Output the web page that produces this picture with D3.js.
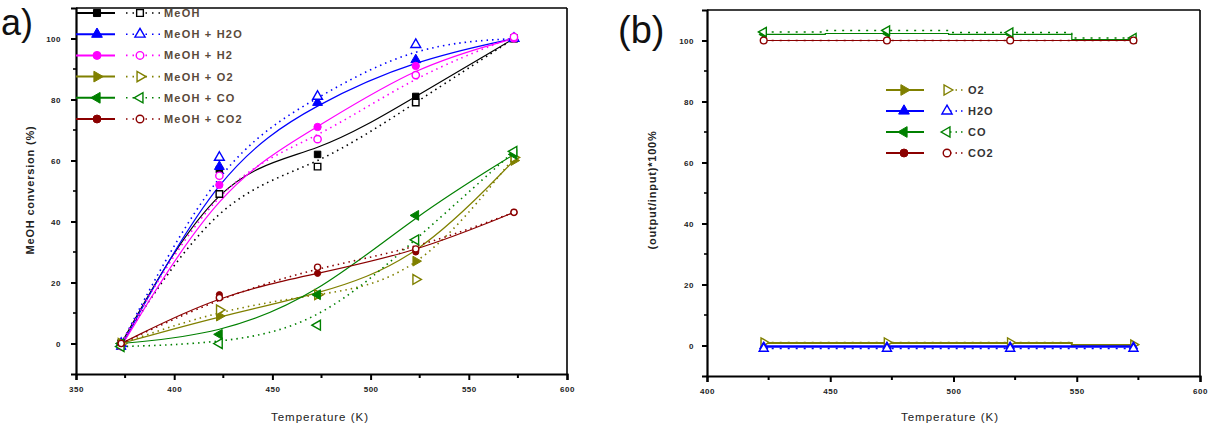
<!DOCTYPE html>
<html>
<head>
<meta charset="utf-8">
<script src="https://cdn.jsdelivr.net/npm/d3@7"></script>
<style>
  body { margin: 0; background: #fff; }
  svg { display: block; font-family: "Liberation Sans", Arial, sans-serif; }
</style>
</head>
<body>
<svg id="chart" width="1219" height="432"></svg>
<script>
// panel a: MeOH conversion vs temperature
const tempsA = [373, 423, 473, 523, 573];
const meohFilled = [0, 57, 62, 81, 100];
const meohOpen = [0, 49, 58, 79, 100];
const h2oFilled = [-1, 58, 79, 93, 100];
const h2oOpen = [0, 61, 81, 98, 100];
const h2Filled = [-1, 52, 71, 91, 100];
const h2Open = [0, 55, 67, 88, 100.5];
const o2Filled = [0, 9, 16, 27, 60];
const o2Open = [0, 11, 16, 21, 61];
const coFilled = [0, 3, 16, 42, 62];
const coOpen = [-1, 0, 6, 34, 63];
const co2Filled = [0, 16, 23, 30, 43];
const co2Open = [0, 15, 25, 31, 43];
const namesA = ["MeOH", "MeOH + H2O", "MeOH + H2", "MeOH + O2", "MeOH + CO", "MeOH + CO2"];

// panel b: output/input
const tempsB = [423, 473, 523, 573];
const o2BFilled = [0.8, 0.8, 0.8, 0.2];
const o2BOpen = [1, 1, 1, 0.3];
const h2oBFilled = [-0.3, -0.3, -0.3, -0.3];
const h2oBOpen = [-1, -1, -1, -1];
const coBFilled = [102, 102.3, 102, 100.3];
const coBOpen = [102.8, 103.3, 102.6, 100.8];
const co2BFilled = [100, 100, 100, 100];
const co2BOpen = [100, 100, 100, 100];
const namesB = ["O2", "H2O", "CO", "CO2"];

const xTicksA = [350, 400, 450, 500, 550, 600];
const xTicksB = [400, 450, 500, 550, 600];
const yTicks = [0, 20, 40, 60, 80, 100];

const svg = d3.select("#chart");

const symTri = d3.symbolTriangle;
const shapes = {
    square: { type: d3.symbolSquare, rot: 0 },
    up: { type: symTri, rot: 0 },
    circle: { type: d3.symbolCircle, rot: 0 },
    right: { type: symTri, rot: 90 },
    left: { type: symTri, rot: -90 },
    small: { type: d3.symbolCircle, rot: 0 }
};

const seriesA = [
    { name: namesA[0], color: "#000000", shape: "square", filled: meohFilled, open: meohOpen },
    { name: namesA[1], color: "#0000ff", shape: "up", filled: h2oFilled, open: h2oOpen },
    { name: namesA[2], color: "#ff00ff", shape: "circle", filled: h2Filled, open: h2Open },
    { name: namesA[3], color: "#808000", shape: "right", filled: o2Filled, open: o2Open },
    { name: namesA[4], color: "#008000", shape: "left", filled: coFilled, open: coOpen },
    { name: namesA[5], color: "#8b0000", shape: "small", filled: co2Filled, open: co2Open }
];

const seriesB = [
    { name: namesB[0], color: "#808000", shape: "right", filled: o2BFilled, open: o2BOpen, w: 2 },
    { name: namesB[1], color: "#0000ff", shape: "up", filled: h2oBFilled, open: h2oBOpen, w: 2.5 },
    { name: namesB[2], color: "#008000", shape: "left", filled: coBFilled, open: coBOpen, w: 1.2 },
    { name: namesB[3], color: "#8b0000", shape: "small", filled: co2BFilled, open: co2BOpen, w: 1.2 }
];

function marker(g, shape, x, y, color, filled, size) {
    const s = shapes[shape];
    const sz = size || (shape === "small" ? 30 : 42);
    g.append("path")
        .attr("d", d3.symbol().type(s.type).size(sz)())
        .attr("transform", "translate(" + x + "," + y + ") rotate(" + s.rot + ")")
        .attr("fill", filled ? color : "#fff")
        .attr("stroke", color)
        .attr("stroke-width", filled ? 1 : 1.4);
}

function frame(x, y, xTicks, xMinor, yMinor, labelGap) {
    const g = svg.append("g");
    const [x0, x1] = x.range();
    const [y0, y1] = y.range();
    // box
    g.append("line").attr("x1", x0).attr("x2", x1).attr("y1", y1).attr("y2", y1)
        .attr("stroke", "#000").attr("stroke-width", 1.6);
    g.append("line").attr("x1", x1).attr("x2", x1).attr("y1", y1).attr("y2", y0)
        .attr("stroke", "#000").attr("stroke-width", 1.6);

    const xAxis = g.append("g").attr("transform", "translate(0," + y0 + ")")
        .call(d3.axisBottom(x).tickValues(xTicks).tickSize(6).tickPadding(6).tickFormat(d3.format("d")));
    xAxis.append("g").selectAll("line").data(xMinor).join("line")
        .attr("x1", d => x(d)).attr("x2", d => x(d)).attr("y1", 0).attr("y2", 4)
        .attr("stroke", "#000").attr("stroke-width", 2);

    const yAxis = g.append("g").attr("transform", "translate(" + x0 + ",0)")
        .call(d3.axisLeft(y).tickValues(yTicks).tickSize(5).tickPadding(labelGap).tickFormat(d3.format("d")));
    yAxis.append("g").selectAll("line").data(yMinor).join("line")
        .attr("x1", 0).attr("x2", -3).attr("y1", d => y(d)).attr("y2", d => y(d))
        .attr("stroke", "#000").attr("stroke-width", 1.6);

    [xAxis, yAxis].forEach(a => {
        a.select(".domain").attr("stroke-width", 2.2);
        a.selectAll(".tick line").attr("stroke-width", 2);
        a.selectAll(".tick text").attr("font-size", 8).attr("font-weight", "bold")
            .attr("fill", "#222").attr("letter-spacing", 0.5);
    });
    return g;
}

// ---------- panel a ----------
const xA = d3.scaleLinear().domain([350, 600]).range([76, 567]);
const yA = d3.scaleLinear().domain([-10, 110]).range([374, 8]);

frame(xA, yA, xTicksA, [375, 425, 475, 525, 575], [10, 30, 50, 70, 90], 10);

const plotA = svg.append("g");
const lineBasisA = (vals) => d3.line()
    .x((d, i) => xA(tempsA[i]))
    .y(d => yA(d))
    .curve(d3.curveBasis)(vals);

seriesA.forEach(s => {
    plotA.append("path").attr("d", lineBasisA(s.open))
        .attr("fill", "none").attr("stroke", s.color)
        .attr("stroke-width", 1.6).attr("stroke-dasharray", "1.5,4");
    plotA.append("path").attr("d", lineBasisA(s.filled))
        .attr("fill", "none").attr("stroke", s.color).attr("stroke-width", 1.2);
});
seriesA.forEach(s => {
    s.filled.forEach((v, i) => marker(plotA, s.shape, xA(tempsA[i]), yA(v), s.color, true));
    s.open.forEach((v, i) => marker(plotA, s.shape, xA(tempsA[i]), yA(v), s.color, false));
});

// legend a
const legA = svg.append("g");
seriesA.forEach((s, i) => {
    const ly = 13 + i * 21.2;
    legA.append("line").attr("x1", 76).attr("x2", 115).attr("y1", ly).attr("y2", ly)
        .attr("stroke", s.color).attr("stroke-width", 2);
    marker(legA, s.shape, 97, ly, s.color, true, 50);
    legA.append("line").attr("x1", 126).attr("x2", 160).attr("y1", ly).attr("y2", ly)
        .attr("stroke", s.color).attr("stroke-width", 1.6).attr("stroke-dasharray", "1.5,5");
    marker(legA, s.shape, 140, ly, s.color, false, 45);
    legA.append("text").attr("x", 164).attr("y", ly + 4)
        .attr("font-size", 11).attr("font-weight", "bold").attr("letter-spacing", 1.2)
        .attr("fill", "#5a4a3a").text(s.name);
});

svg.append("text").attr("x", 1).attr("y", 35).attr("font-size", 36)
    .attr("fill", "#111").text("a)");
svg.append("text").attr("transform", "translate(34,190) rotate(-90)")
    .attr("text-anchor", "middle").attr("font-size", 11).attr("font-weight", "bold")
    .attr("letter-spacing", 0.8).attr("fill", "#222").text("MeOH conversion (%)");
svg.append("text").attr("x", 320).attr("y", 421).attr("text-anchor", "middle")
    .attr("font-size", 11.5).attr("letter-spacing", 1).attr("fill", "#222").text("Temperature (K)");

// ---------- panel b ----------
const xB = d3.scaleLinear().domain([400, 600]).range([707, 1200]);
const yB = d3.scaleLinear().domain([-10, 110]).range([376, 10]);

frame(xB, yB, xTicksB, [425, 475, 525, 575], [10, 30, 50, 70, 90], 8);

const plotB = svg.append("g");
const lineStepB = (vals) => d3.line()
    .x((d, i) => xB(tempsB[i]))
    .y(d => yB(d))
    .curve(d3.curveStep)(vals);

seriesB.forEach(s => {
    plotB.append("path").attr("d", lineStepB(s.open))
        .attr("fill", "none").attr("stroke", s.color)
        .attr("stroke-width", 1.4).attr("stroke-dasharray", "2,6");
    plotB.append("path").attr("d", lineStepB(s.filled))
        .attr("fill", "none").attr("stroke", s.color).attr("stroke-width", s.w);
});
seriesB.forEach(s => {
    s.filled.forEach((v, i) => marker(plotB, s.shape, xB(tempsB[i]), yB(v), s.color, true, 30));
    s.open.forEach((v, i) => marker(plotB, s.shape, xB(tempsB[i]), yB(v), s.color, false, 36));
});

// legend b
const legB = svg.append("g");
seriesB.forEach((s, i) => {
    const ly = 90 + i * 21;
    legB.append("line").attr("x1", 886).attr("x2", 924).attr("y1", ly).attr("y2", ly)
        .attr("stroke", s.color).attr("stroke-width", 2);
    marker(legB, s.shape, 904, ly, s.color, true, 50);
    legB.append("line").attr("x1", 950).attr("x2", 966).attr("y1", ly).attr("y2", ly)
        .attr("stroke", s.color).attr("stroke-width", 1.6).attr("stroke-dasharray", "1.5,4");
    marker(legB, s.shape, 947, ly, s.color, false, 45);
    legB.append("text").attr("x", 968).attr("y", ly + 4)
        .attr("font-size", 11).attr("font-weight", "bold").attr("letter-spacing", 1)
        .attr("fill", "#333").text(s.name);
});

svg.append("text").attr("x", 618).attr("y", 43).attr("font-size", 38)
    .attr("fill", "#111").text("(b)");
svg.append("text").attr("transform", "translate(656,190) rotate(-90)")
    .attr("text-anchor", "middle").attr("font-size", 11).attr("font-weight", "bold")
    .attr("letter-spacing", 0.8).attr("fill", "#222").text("(output/input)*100%");
svg.append("text").attr("x", 950).attr("y", 421).attr("text-anchor", "middle")
    .attr("font-size", 11.5).attr("letter-spacing", 1).attr("fill", "#222").text("Temperature (K)");
</script>
</body>
</html>
